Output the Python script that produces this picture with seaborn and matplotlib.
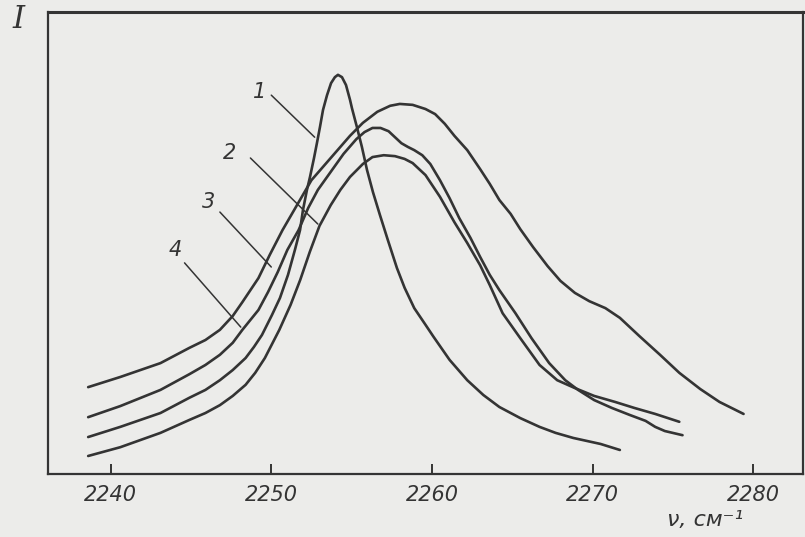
"""
plot.py - IR band contours in the 2240-2280 cm-1 region, curves 1-4.
"""

import matplotlib

matplotlib.use("Agg")
import matplotlib.pyplot as plt
import pandas as pd
import seaborn as sns


# curve 1: sharp band
WN_1 = [2238.6, 2240.6, 2243.1, 2244.9, 2245.9, 2246.8, 2247.6, 2248.4, 2248.92, 2249.42,
        2250.04, 2250.54, 2251.04, 2251.47, 2251.79, 2251.97, 2252.22, 2252.41, 2252.66, 2252.84,
        2253.03, 2253.22, 2253.47, 2253.72, 2253.96, 2254.15, 2254.40, 2254.65, 2254.90, 2255.02,
        2255.33, 2255.64, 2255.96, 2256.33, 2256.76, 2257.26, 2257.82, 2258.3, 2258.9, 2259.6,
        2260.1, 2261.1, 2262.2, 2263.2, 2264.2, 2265.5, 2266.7, 2267.7, 2268.8, 2270.5,
        2271.7]
I_1 = [8.0, 10.2, 13.2, 16.5, 18.2, 20.3, 22.5, 25.1, 27.5, 30.1,
       34.4, 38.1, 43.1, 48.5, 52.8, 57.1, 61.5, 64.3, 68.4, 71.6,
       75.1, 78.8, 82.0, 84.6, 85.9, 86.4, 85.9, 84.2, 81.0, 79.2,
       75.1, 70.8, 65.8, 61.0, 56.1, 50.6, 44.6, 40.3, 35.9, 32.3,
       29.7, 24.7, 20.3, 17.1, 14.5, 12.1, 10.2, 8.9, 7.8, 6.5,
       5.2]

# curve 2: lowest maximum
WN_2 = [2238.6, 2240.6, 2243.1, 2244.9, 2245.9, 2246.8, 2247.6, 2248.4, 2249.0, 2249.6,
        2250.5, 2251.2, 2251.8, 2252.4, 2253.0, 2253.7, 2254.3, 2254.9, 2255.7, 2256.3,
        2257.0, 2257.7, 2258.3, 2258.8, 2259.6, 2260.5, 2261.4, 2262.2, 2263.0, 2263.6,
        2264.4, 2265.5, 2266.7, 2267.8, 2268.9, 2270.1, 2271.4, 2272.6, 2273.9, 2275.4]
I_2 = [3.9, 5.8, 8.9, 11.7, 13.2, 14.9, 16.9, 19.3, 21.9, 25.1,
       31.2, 36.6, 42.0, 48.1, 53.7, 58.2, 61.5, 64.3, 67.1, 68.6,
       69.0, 68.8, 68.2, 67.3, 64.7, 60.0, 54.5, 50.0, 45.2, 40.9,
       34.8, 29.4, 23.6, 20.3, 18.6, 16.9, 15.6, 14.3, 13.0, 11.3]

# curve 3: broad band
WN_3 = [2238.6, 2240.6, 2243.1, 2244.9, 2245.9, 2246.8, 2247.6, 2248.2, 2249.2, 2249.9,
        2250.7, 2251.6, 2252.5, 2253.7, 2254.3, 2254.9, 2255.7, 2256.6, 2257.4, 2258.0,
        2258.8, 2259.6, 2260.2, 2260.8, 2261.4, 2262.2, 2263.0, 2263.6, 2264.2, 2264.9,
        2265.5, 2266.3, 2267.2, 2268.0, 2268.9, 2269.8, 2270.8, 2271.7, 2272.9, 2274.2,
        2275.4, 2276.7, 2277.9, 2279.4]
I_3 = [18.8, 21.0, 24.0, 27.3, 29.0, 31.2, 34.2, 37.2, 42.4, 47.4,
       52.8, 58.2, 63.6, 68.4, 70.8, 73.2, 76.0, 78.4, 79.7, 80.1,
       79.9, 79.0, 77.9, 75.8, 73.2, 70.1, 66.0, 62.8, 59.3, 56.3,
       53.0, 49.1, 45.0, 41.8, 39.2, 37.4, 35.9, 33.8, 29.9, 25.8,
       21.9, 18.4, 15.6, 13.0]

# curve 4: band with a shoulder
WN_4 = [2238.6, 2240.6, 2243.1, 2244.9, 2245.9, 2246.8, 2247.6, 2248.2, 2249.2, 2249.8,
        2250.4, 2251.0, 2251.7, 2252.3, 2252.9, 2253.7, 2254.5, 2255.3, 2255.8, 2256.3,
        2256.8, 2257.3, 2257.7, 2258.1, 2258.5, 2258.9, 2259.4, 2259.9, 2260.5, 2261.1,
        2261.7, 2262.4, 2263.0, 2263.6, 2264.2, 2265.2, 2266.2, 2267.3, 2268.3, 2269.1,
        2270.1, 2271.2, 2272.3, 2273.3, 2273.9, 2274.5, 2275.6]
I_4 = [12.3, 14.7, 18.2, 21.6, 23.6, 25.8, 28.4, 31.2, 35.5, 39.4,
       43.7, 48.5, 52.8, 57.6, 61.5, 65.4, 69.3, 72.5, 74.0, 74.9,
       74.9, 74.2, 72.9, 71.6, 70.8, 70.1, 69.0, 67.1, 63.6, 59.7,
       55.4, 51.1, 47.0, 43.1, 39.8, 34.8, 29.4, 24.0, 20.3, 18.2,
       16.0, 14.3, 12.8, 11.5, 10.2, 9.3, 8.4]

CURVE_NAMES = ["1", "2", "3", "4"]
X_TICKS = [2240, 2250, 2260, 2270, 2280]

INK = "#343434"
PAPER = "#ececea"

# label text position, leader start, leader end (data coords)
LEADERS = {
    "1": ((2249.3, 82.6), (2250.0, 82.0), (2252.7, 72.9)),
    "2": ((2247.4, 69.5), (2248.7, 68.4), (2252.9, 54.1)),
    "3": ((2246.1, 58.9), (2246.8, 56.7), (2250.0, 44.8)),
    "4": ((2244.0, 48.5), (2244.6, 45.7), (2248.1, 31.8)),
}


def build_frame() -> pd.DataFrame:
    parts = []
    for name, wn, inten in zip(CURVE_NAMES, [WN_1, WN_2, WN_3, WN_4], [I_1, I_2, I_3, I_4]):
        parts.append(pd.DataFrame({"wavenumber": wn, "intensity": inten, "curve": name}))
    return pd.concat(parts, ignore_index=True)


def main() -> int:
    sns.set_theme(style="white")
    plt.rcParams["font.family"] = ["DejaVu Sans"]

    df = build_frame()

    fig = plt.figure(figsize=(8.05, 5.37), dpi=100, facecolor=PAPER)
    ax = fig.add_axes([48 / 805, 63 / 537, 755 / 805, 462 / 537])
    ax.set_facecolor(PAPER)

    sns.lineplot(data=df, x="wavenumber", y="intensity", hue="curve",
                 palette=[INK] * 4, estimator=None, linewidth=1.9,
                 legend=False, ax=ax)
    for line in ax.get_lines():
        line.set_solid_joinstyle("round")

    for name, (txt, start, end) in LEADERS.items():
        ax.annotate("", xy=end, xytext=start,
                    arrowprops=dict(arrowstyle="-", lw=1.1, color=INK,
                                    shrinkA=0, shrinkB=0))
        ax.text(txt[0], txt[1], name, ha="center", va="center",
                fontsize=15, fontstyle="italic", color=INK)

    ax.set_xlim(2236.1, 2283.1)
    ax.set_ylim(0, 100)
    ax.set_xticks(X_TICKS)
    ax.set_xticklabels([str(t) for t in X_TICKS], fontsize=15,
                       fontstyle="italic", color=INK)
    ax.set_yticks([])
    ax.tick_params(axis="x", direction="in", length=7, width=1.4,
                   color=INK, pad=8, bottom=True)
    ax.set_xlabel("")
    ax.set_ylabel("")
    for side in ["left", "right", "top", "bottom"]:
        ax.spines[side].set_visible(True)
        ax.spines[side].set_color(INK)
        ax.spines[side].set_linewidth(1.6)
    ax.spines["top"].set_linewidth(2.2)

    fig.text(18 / 805, 1 - 20 / 537, "I", fontsize=22, fontstyle="italic",
             family="DejaVu Serif", color=INK, ha="center", va="center")
    fig.text(705 / 805, 1 - 520 / 537, "ν, см⁻¹", fontsize=16,
             fontstyle="italic", color=INK, ha="center", va="center")

    fig.savefig("out.png", dpi=100, facecolor=PAPER)
    plt.close(fig)
    return 0


if __name__ == "__main__":
    raise SystemExit(main())
